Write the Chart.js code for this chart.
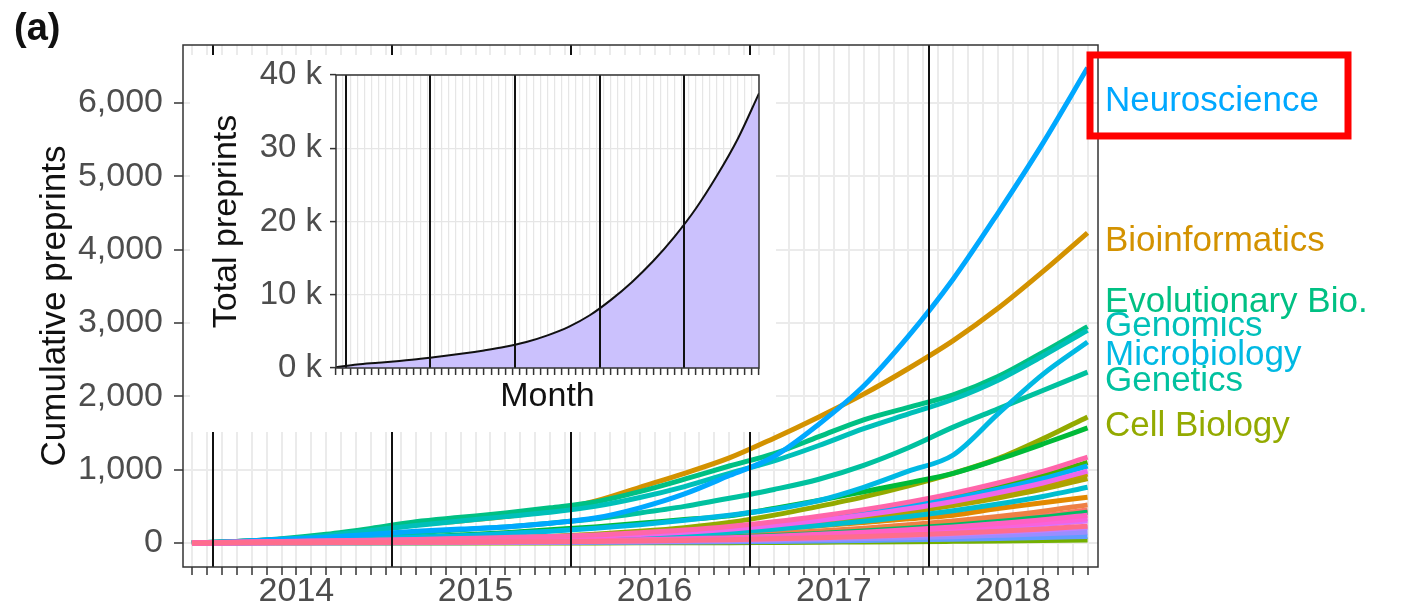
<!DOCTYPE html>
<html>
<head>
<meta charset="utf-8">
<script src="https://cdn.jsdelivr.net/npm/chart.js@4.4.1/dist/chart.umd.min.js"></script>
<style>
  body { margin: 0; background: #fff; }
  #wrap { position: relative; width: 1401px; height: 608px; }
  #main { position: absolute; left: 0; top: 0; }
  #inset { position: absolute; left: 190px; top: 55px; background: #fff; }
  #panel { position: absolute; left: 14px; top: 8px; font: bold 38px "Liberation Sans", Arial, sans-serif; color: #111; line-height: 1; }
</style>
</head>
<body>
<div id="wrap">
  <canvas id="main" width="1401" height="608" style="width:1401px;height:608px"></canvas>
  <canvas id="inset" width="586" height="377" style="width:586px;height:377px"></canvas>
  <div id="panel">(a)</div>
</div>
<script>
// months since Nov 2013, sampled quarterly
const months = [0, 3, 6, 9, 12, 15, 18, 21, 24, 27, 30, 33, 36, 39, 42, 45, 48, 51, 54, 57, 60];

const categories = [
  'Animal Behavior and Cognition', 'Biochemistry', 'Bioengineering', 'Bioinformatics', 'Biophysics',
  'Cancer Biology', 'Cell Biology', 'Clinical Trials', 'Developmental Biology', 'Ecology',
  'Epidemiology', 'Evolutionary Biology', 'Genetics', 'Genomics', 'Immunology',
  'Microbiology', 'Molecular Biology', 'Neuroscience', 'Paleontology', 'Pathology',
  'Pharmacology and Toxicology', 'Physiology', 'Plant Biology', 'Scientific Communication and Education',
  'Synthetic Biology', 'Systems Biology', 'Zoology'
];

// cumulative preprints per category
const animalBehavior = [0, 6, 9, 12, 15, 19, 24, 29, 35, 43, 54, 68, 86, 112, 141, 175, 215, 261, 315, 376, 450];
const biochemistry = [0, 6, 9, 13, 17, 22, 28, 33, 40, 49, 62, 78, 100, 129, 163, 202, 248, 301, 363, 434, 520];
const bioengineering = [0, 5, 10, 17, 25, 33, 43, 55, 68, 85, 105, 130, 160, 195, 235, 280, 330, 380, 470, 550, 625];
const bioinformatics = [0, 20, 50, 100, 170, 250, 300, 360, 440, 570, 760, 950, 1160, 1430, 1720, 2030, 2380, 2760, 3200, 3700, 4230];
const biophysics = [0, 12, 18, 24, 31, 39, 50, 60, 72, 89, 112, 141, 180, 233, 294, 366, 448, 544, 657, 785, 940];
const cancerBiology = [0, 10, 16, 22, 28, 36, 46, 56, 67, 83, 104, 132, 168, 218, 275, 342, 420, 510, 615, 735, 880];
const cellBiology = [0, 5, 10, 20, 30, 40, 50, 70, 90, 120, 160, 210, 280, 380, 500, 630, 780, 950, 1150, 1420, 1720];
const clinicalTrials = [0, 0, 0, 0, 0, 0, 0, 0, 0, 1, 2, 3, 5, 8, 11, 14, 18, 23, 28, 34, 40];
const developmentalBiology = [0, 14, 21, 29, 36, 46, 58, 70, 85, 105, 131, 165, 211, 273, 344, 428, 525, 637, 769, 918, 1100];
const ecology = [0, 10, 20, 40, 60, 80, 110, 140, 180, 220, 270, 320, 370, 470, 580, 700, 820, 950, 1140, 1350, 1570];
const epidemiology = [0, 5, 8, 11, 14, 18, 22, 27, 32, 40, 50, 63, 81, 104, 131, 163, 200, 243, 294, 351, 420];
const evolutionaryBiology = [0, 20, 60, 120, 200, 290, 350, 410, 480, 560, 700, 870, 1050, 1220, 1450, 1680, 1850, 2020, 2270, 2600, 2950];
const genetics = [0, 10, 30, 60, 100, 140, 180, 220, 270, 330, 410, 500, 610, 730, 870, 1060, 1300, 1580, 1830, 2080, 2330];
const genomics = [0, 20, 50, 100, 170, 240, 300, 360, 420, 500, 620, 770, 950, 1120, 1330, 1560, 1760, 1960, 2220, 2550, 2900];
const immunology = [0, 9, 14, 19, 25, 32, 40, 48, 58, 72, 90, 114, 146, 188, 238, 296, 362, 440, 531, 635, 760];
const microbiology = [0, 10, 20, 40, 60, 80, 100, 130, 160, 200, 250, 310, 380, 460, 580, 760, 980, 1200, 1760, 2300, 2740];
const molecularBiology = [0, 12, 19, 26, 34, 43, 55, 66, 80, 99, 124, 157, 200, 260, 328, 408, 500, 607, 733, 876, 1050];
const neuroscience = [0, 20, 50, 80, 120, 160, 190, 220, 270, 340, 480, 670, 920, 1180, 1620, 2140, 2820, 3600, 4500, 5450, 6480];
const paleontology = [0, 1, 2, 2, 3, 4, 5, 6, 7, 9, 11, 14, 17, 22, 28, 35, 43, 52, 63, 75, 90];
const pathology = [0, 2, 3, 4, 5, 6, 8, 10, 12, 14, 18, 23, 29, 37, 47, 58, 72, 87, 105, 125, 150];
const pharmacology = [0, 3, 4, 5, 7, 9, 11, 13, 16, 20, 25, 32, 40, 52, 66, 82, 100, 122, 147, 175, 210];
const physiology = [0, 4, 6, 8, 10, 13, 16, 19, 23, 29, 36, 45, 58, 74, 94, 117, 143, 174, 210, 251, 300];
const plantBiology = [0, 12, 18, 25, 32, 41, 52, 62, 75, 93, 116, 147, 188, 243, 307, 381, 467, 567, 685, 818, 980];
const sciComm = [0, 4, 6, 9, 11, 14, 17, 21, 25, 31, 39, 50, 63, 82, 103, 128, 157, 191, 231, 276, 330];
const syntheticBiology = [0, 5, 7, 10, 13, 16, 20, 24, 29, 36, 45, 57, 73, 94, 119, 148, 181, 220, 266, 317, 380];
const systemsBiology = [0, 15, 22, 30, 39, 49, 62, 75, 90, 111, 139, 176, 225, 290, 366, 455, 558, 677, 818, 977, 1170];
const zoology = [0, 3, 4, 6, 8, 10, 12, 15, 18, 22, 27, 35, 44, 57, 72, 89, 110, 133, 161, 192, 230];

const seriesValues = [
  animalBehavior, biochemistry, bioengineering, bioinformatics, biophysics,
  cancerBiology, cellBiology, clinicalTrials, developmentalBiology, ecology,
  epidemiology, evolutionaryBiology, genetics, genomics, immunology,
  microbiology, molecularBiology, neuroscience, paleontology, pathology,
  pharmacology, physiology, plantBiology, sciComm,
  syntheticBiology, systemsBiology, zoology
];

// total preprints (inset)
const totalPreprints = [100, 480, 720, 970, 1250, 1590, 1970, 2400, 2900, 3550, 4460, 5620, 7200, 9300, 11750, 14600, 17900, 21700, 26200, 31300, 37500];

// direct labels at the right edge
const labelNames = ['Neuroscience', 'Bioinformatics', 'Evolutionary Bio.', 'Genomics', 'Microbiology', 'Genetics', 'Cell Biology'];
const labelCategories = ['Neuroscience', 'Bioinformatics', 'Evolutionary Biology', 'Genomics', 'Microbiology', 'Genetics', 'Cell Biology'];
const labelValues = [6055, 4140, 3315, 2990, 2590, 2235, 1620];

// axes
const yearLabels = ['2014', '2015', '2016', '2017', '2018'];
const yearLabelMonths = [7, 19, 31, 43, 55];
const yearStarts = [1.4, 13.4, 25.4, 37.4, 49.4];
const yTicks = [0, 500, 1000, 1500, 2000, 2500, 3000, 3500, 4000, 4500, 5000, 5500, 6000, 6500];
const insetYTicks = [0, 5000, 10000, 15000, 20000, 25000, 30000, 35000, 40000];

const monthTicks = [];
for (let m = 0; m <= 60; m++) monthTicks.push(m);

// ggplot2 default hue palette (hcl, c = 100, l = 65)
function hcl(h, c, l) {
  const rad = h * Math.PI / 180;
  const U = c * Math.cos(rad), V = c * Math.sin(rad);
  const Y = l > 7.999592 ? Math.pow((l + 16) / 116, 3) : l / 903.3;
  const u = U / (13 * l) + 0.1978398, v = V / (13 * l) + 0.4683363;
  const X = 9 * Y * u / (4 * v);
  const Z = -X / 3 - 5 * Y + 3 * Y / v;
  const g = t => {
    t = t > 0.00304 ? 1.055 * Math.pow(t, 1 / 2.4) - 0.055 : 12.92 * t;
    return Math.round(255 * Math.min(1, Math.max(0, t)));
  };
  return 'rgb(' + g(3.240479 * X - 1.537150 * Y - 0.498535 * Z) + ',' +
    g(-0.969256 * X + 1.875992 * Y + 0.041556 * Z) + ',' +
    g(0.055648 * X - 0.204043 * Y + 1.057311 * Z) + ')';
}
const palette = categories.map((c, i) => hcl(15 + i * 360 / categories.length, 100, 65));

Chart.defaults.font.family = '"Liberation Sans", Arial, Helvetica, sans-serif';

function drawYearLines(chart) {
  const { ctx, chartArea: a, scales: { x } } = chart;
  ctx.strokeStyle = '#111';
  ctx.lineWidth = 2;
  yearStarts.forEach(m => {
    const px = Math.round(x.getPixelForValue(m));
    ctx.beginPath();
    ctx.moveTo(px, a.top);
    ctx.lineTo(px, a.bottom);
    ctx.stroke();
  });
  ctx.strokeStyle = '#333';
  ctx.lineWidth = 1.5;
  ctx.strokeRect(a.left, a.top, a.right - a.left, a.bottom - a.top);
}

const mainDecor = {
  id: 'mainDecor',
  afterDatasetsDraw(chart) {
    const { ctx, chartArea: a, scales: { y } } = chart;
    ctx.save();
    drawYearLines(chart);

    ctx.font = '35px "Liberation Sans", Arial, sans-serif';
    ctx.textAlign = 'left';
    ctx.textBaseline = 'alphabetic';
    labelNames.forEach((name, i) => {
      ctx.fillStyle = palette[categories.indexOf(labelCategories[i])];
      ctx.fillText(name, a.right + 7, y.getPixelForValue(labelValues[i]) + 12);
    });

    // highlight box around the Neuroscience label
    const ny = y.getPixelForValue(labelValues[0]);
    ctx.strokeStyle = '#ff0000';
    ctx.lineWidth = 7;
    ctx.strokeRect(a.right - 8, ny - 44, 258, 81);
    ctx.restore();
  }
};

const insetDecor = {
  id: 'insetDecor',
  afterDatasetsDraw(chart) {
    chart.ctx.save();
    drawYearLines(chart);
    chart.ctx.restore();
  }
};

new Chart(document.getElementById('main'), {
  type: 'line',
  data: {
    datasets: categories.map((name, i) => ({
      label: name,
      data: months.map((m, j) => ({ x: m, y: seriesValues[i][j] })),
      borderColor: palette[i],
      borderWidth: 5,
      pointRadius: 0,
      cubicInterpolationMode: 'monotone',
      order: categories.length - 1 - i
    }))
  },
  options: {
    responsive: false,
    animation: false,
    devicePixelRatio: 1,
    layout: { padding: { top: 45, right: 303, left: 0, bottom: 0 } },
    plugins: { legend: { display: false }, tooltip: { enabled: false } },
    scales: {
      x: {
        type: 'linear',
        min: -0.6,
        max: 60.7,
        afterBuildTicks: s => { s.ticks = monthTicks.map(v => ({ value: v })); },
        afterFit: s => { s.height = 41; },
        ticks: {
          autoSkip: false,
          maxRotation: 0,
          padding: 0,
          color: '#4d4d4d',
          font: { size: 34, lineHeight: 1 },
          callback: v => {
            const i = yearLabelMonths.indexOf(v);
            return i >= 0 ? yearLabels[i] : '';
          }
        },
        grid: { color: '#ebebeb', lineWidth: 2, tickLength: 8, tickWidth: 1.5, tickColor: '#333' },
        border: { display: false }
      },
      y: {
        min: -327,
        max: 6791,
        afterBuildTicks: s => { s.ticks = yTicks.map(v => ({ value: v })); },
        afterFit: s => { s.width = 183; },
        ticks: {
          padding: 11,
          color: '#4d4d4d',
          font: { size: 34 },
          callback: v => v % 1000 === 0 ? v.toLocaleString('en-US') : ''
        },
        grid: {
          color: '#ebebeb',
          lineWidth: 2,
          tickLength: 9,
          tickWidth: 1.5,
          tickColor: c => c.tick && c.tick.value % 1000 === 0 ? '#333' : 'rgba(0,0,0,0)'
        },
        border: { display: false },
        title: {
          display: true,
          text: 'Cumulative preprints',
          color: '#111',
          font: { size: 35 },
          padding: { top: 34, bottom: 0 }
        }
      }
    }
  },
  plugins: [mainDecor]
});

new Chart(document.getElementById('inset'), {
  type: 'line',
  data: {
    datasets: [{
      label: 'Total preprints',
      data: months.map((m, j) => ({ x: m, y: totalPreprints[j] })),
      borderColor: '#111',
      borderWidth: 2,
      backgroundColor: '#cbc1fd',
      fill: 'origin',
      pointRadius: 0,
      cubicInterpolationMode: 'monotone'
    }]
  },
  options: {
    responsive: false,
    animation: false,
    devicePixelRatio: 1,
    layout: { padding: { top: 20, right: 17, left: 0, bottom: 0 } },
    plugins: { legend: { display: false }, tooltip: { enabled: false } },
    scales: {
      x: {
        type: 'linear',
        min: 0,
        max: 60,
        afterBuildTicks: s => { s.ticks = monthTicks.map(v => ({ value: v })); },
        afterFit: s => { s.height = 64; s.paddingLeft = 0; s.paddingRight = 0; },
        ticks: { autoSkip: false, maxRotation: 0, callback: () => '' },
        grid: { color: '#e6e6e6', lineWidth: 1.2, tickLength: 7, tickWidth: 1.5, tickColor: '#333' },
        border: { display: false },
        title: {
          display: true,
          text: 'Month',
          color: '#111',
          font: { size: 34 },
          padding: { top: 0, bottom: 15 }
        }
      },
      y: {
        min: 0,
        max: 40000,
        afterBuildTicks: s => { s.ticks = insetYTicks.map(v => ({ value: v })); },
        afterFit: s => { s.width = 146; s.paddingTop = 0; s.paddingBottom = 0; },
        ticks: {
          padding: 8,
          color: '#4d4d4d',
          font: { size: 33 },
          callback: v => v % 10000 === 0 ? (v / 1000) + ' k' : ''
        },
        grid: {
          color: '#e6e6e6',
          lineWidth: 1.2,
          tickLength: 6,
          tickWidth: 1.5,
          tickColor: c => c.tick && c.tick.value % 10000 === 0 ? '#333' : 'rgba(0,0,0,0)'
        },
        border: { display: false },
        title: {
          display: true,
          text: 'Total preprints',
          color: '#111',
          font: { size: 34 },
          padding: { top: 16, bottom: 0 }
        }
      }
    }
  },
  plugins: [insetDecor]
});
</script>
</body>
</html>
